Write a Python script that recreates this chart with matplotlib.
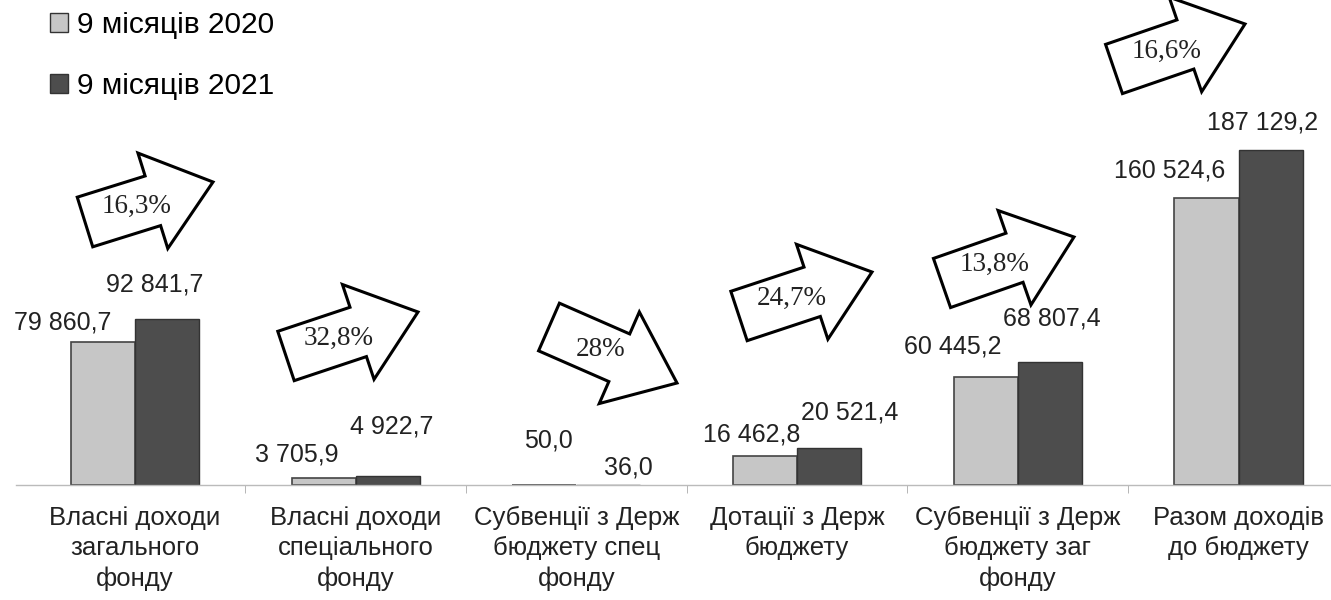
import numpy as np
import matplotlib
matplotlib.use('Agg')
import matplotlib.pyplot as plt
from matplotlib.patches import Polygon, Patch

# data
categories = ['Власні доходи\nзагального\nфонду',
              'Власні доходи\nспеціального\nфонду',
              'Субвенції з Держ\nбюджету спец\nфонду',
              'Дотації з Держ\nбюджету',
              'Субвенції з Держ\nбюджету заг\nфонду',
              'Разом доходів\nдо бюджету']
vals_2020 = [79860.7, 3705.9, 50.0, 16462.8, 60445.2, 160524.6]
vals_2021 = [92841.7, 4922.7, 36.0, 20521.4, 68807.4, 187129.2]
growth = ['16,3%', '32,8%', '28%', '24,7%', '13,8%', '16,6%']
series_names = ['9 місяців 2020', '9 місяців 2021']


def fmt(v):
    s = f'{v:,.1f}'
    return s.replace(',', ' ').replace('.', ',')


# label offsets in pixels from bar top (dx, dy) to label centre
off_2020 = [(-40, 20), (-27, 24), (4, 44), (-13, 21), (-33, 30), (-37, 27)]
off_2021 = [(-12, 34), (4, 50), (20, 17), (21, 36), (2, 43), (-8, 28)]

# arrows: tail middle and tip in image pixels (y down)
arrow_tail = [(85, 222), (286, 356), (549, 327), (739, 316), (942, 283), (1114, 69)]
arrow_tip = [(213, 182), (418, 312), (677, 383), (872, 272), (1074, 237), (1245, 24)]

W, H, DPI = 1331, 600, 100
fig = plt.figure(figsize=(W / DPI, H / DPI), dpi=DPI)
ax = fig.add_axes([16 / W, 115 / H, 1 - 16 / W, 485 / H])

x = np.arange(len(categories))
bw = 0.29
c20, c21 = '#c6c6c6', '#4d4d4d'
b1 = ax.bar(x - bw / 2, vals_2020, bw, color=c20, edgecolor='#444444', linewidth=1.2)
b2 = ax.bar(x + bw / 2, vals_2021, bw, color=c21, edgecolor='#333333', linewidth=1.0)

font = 'Liberation Sans'
for bars, vals, offs in [(b1, vals_2020, off_2020), (b2, vals_2021, off_2021)]:
    for rect, v, (dx, dy) in zip(bars, vals, offs):
        ax.annotate(fmt(v), (rect.get_x() + rect.get_width() / 2, v),
                    xytext=(dx, dy), textcoords='offset pixels',
                    ha='center', va='center', fontsize=18, family=font,
                    color='#222222')

ax.set_xlim(-(135 - 16) / 220.7, (1331 - 135) / 220.7)
ax.set_ylim(0, 485 / 1.79 * 1000)
ax.set_xticks(x)
ax.set_xticklabels(categories, fontsize=18.5, family=font, linespacing=1.32, color='#222222')
ax.set_xticks(x[:-1] + 0.5, minor=True)
ax.tick_params(axis='x', which='major', length=0, pad=15)
ax.tick_params(axis='x', which='minor', length=6, color='#aaaaaa')
ax.set_yticks([])
for s in ['top', 'right', 'left']:
    ax.spines[s].set_visible(False)
ax.spines['bottom'].set_color('#bbbbbb')
ax.spines['bottom'].set_linewidth(1.0)

# growth arrows
hw, HW, hl = 26, 50, 63
for (tx, ty), (px, py), g in zip(arrow_tail, arrow_tip, growth):
    tx, ty, px, py = tx, H - ty, px, H - py
    dx, dy = px - tx, py - ty
    L = np.hypot(dx, dy)
    ux, uy = dx / L, dy / L
    nx, ny = -uy, ux
    local = [(0, -hw), (L - hl, -hw), (L - hl, -HW), (L, 0),
             (L - hl, HW), (L - hl, hw), (0, hw)]
    pts = [((tx + a * ux + b * nx) / DPI, (ty + a * uy + b * ny) / DPI) for a, b in local]
    fig.add_artist(Polygon(pts, closed=True, facecolor='white', edgecolor='black',
                           linewidth=2.2, transform=fig.dpi_scale_trans, joinstyle='miter'))
    cx, cy = tx + 0.4 * dx, ty + 0.4 * dy
    fig.text(cx / DPI, cy / DPI, g, transform=fig.dpi_scale_trans, ha='center', va='center',
             fontsize=19.5, family='Liberation Serif', color='#222222')

handles = [Patch(facecolor=c20, edgecolor='#333333'), Patch(facecolor=c21, edgecolor='#333333')]
fig.legend(handles, series_names, loc='upper left', bbox_to_anchor=(38 / W, 1 + 1 / H),
           frameon=False, prop={'family': font, 'size': 21.5}, labelspacing=1.1,
           handlelength=0.6, handleheight=0.6, handletextpad=0.3, borderaxespad=0)

fig.savefig('out.png', dpi=DPI)
